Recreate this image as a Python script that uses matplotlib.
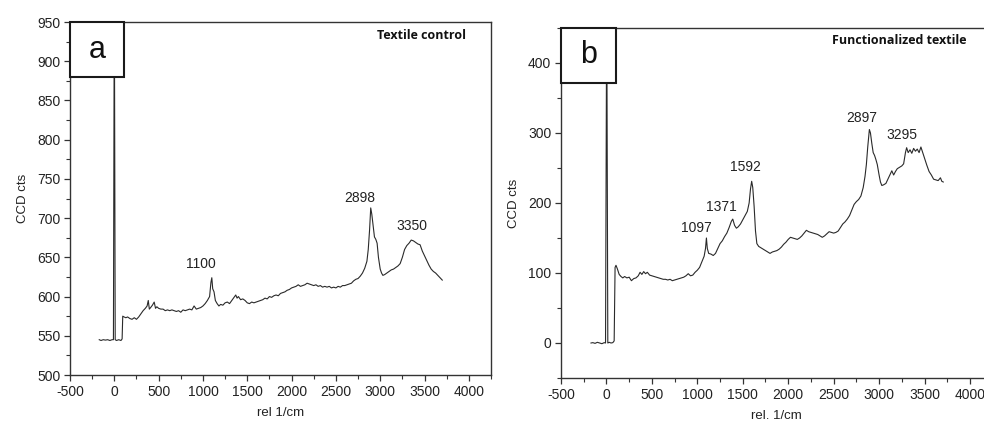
import matplotlib
matplotlib.use("Agg")
import matplotlib.pyplot as plt
from matplotlib.ticker import MultipleLocator
from matplotlib.patches import Rectangle

# ---------------- data ----------------
a_x = [-170, -150, -125, -100, -75, -50, -25, -10, 0, 10, 25, 50, 75, 88, 95, 110, 130, 150, 175, 200,
       225, 250, 275, 300, 325, 350, 370, 383, 395, 410, 430, 450, 465, 480, 500, 525, 550, 575, 600,
       625, 650, 675, 700, 725, 750, 775, 800, 825, 850, 875, 900, 925, 950, 975, 1000, 1025, 1050,
       1075, 1090, 1100, 1110, 1125, 1140, 1160, 1180, 1200, 1225, 1250, 1275, 1300, 1325, 1350, 1370,
       1385, 1400, 1425, 1450, 1475, 1500, 1525, 1550, 1575, 1600, 1625, 1650, 1675, 1700, 1725, 1750,
       1775, 1800, 1825, 1850, 1875, 1900, 1925, 1950, 1975, 2000, 2025, 2050, 2075, 2100, 2125, 2150,
       2175, 2200, 2225, 2250, 2275, 2300, 2325, 2350, 2375, 2400, 2425, 2450, 2475, 2500, 2525, 2550,
       2575, 2600, 2625, 2650, 2675, 2700, 2725, 2750, 2775, 2800, 2825, 2850, 2865, 2880, 2893, 2905,
       2920, 2935, 2950, 2965, 2980, 3000, 3015, 3030, 3050, 3075, 3100, 3125, 3150, 3175, 3200, 3225,
       3250, 3275, 3300, 3325, 3350, 3375, 3400, 3425, 3450, 3475, 3500, 3525, 3550, 3575, 3600, 3625,
       3650, 3675, 3700]
a_y = [545, 544, 545, 544.5, 545, 544, 545, 545, 1000, 545, 544, 545, 544, 546, 575, 574, 573, 574, 572, 571,
       573, 571, 574, 578, 582, 585, 588, 595, 584, 586, 589, 593, 585, 587, 585, 584, 584, 582, 583,
       582, 583, 582, 581, 582, 580, 583, 582, 583, 584, 583, 588, 584, 585, 586, 588, 591, 595,
       600, 618, 624, 610, 606, 595, 591, 588, 590, 589, 592, 593, 591, 595, 599, 602,
       598, 600, 596, 597, 595, 592, 591, 593, 592, 593, 594, 595, 596, 598, 597, 600,
       599, 601, 602, 601, 604, 605, 606, 608, 609, 611, 612, 613, 615, 613, 614, 615,
       617, 616, 615, 614, 615, 613, 614, 612, 613, 612, 613, 611, 612, 611, 613, 612,
       614, 614, 615, 616, 617, 620, 622, 623, 626, 630, 636, 645, 660, 685, 713, 705,
       690, 676, 673, 668, 650, 635, 630, 627, 628, 630, 632, 634, 635, 637, 639, 642,
       650, 660, 665, 668, 672, 671, 669, 667, 666, 658, 652, 646, 640, 635, 632, 630,
       627, 624, 621]

b_x = [-170, -150, -125, -100, -75, -50, -25, -10, 3, 15, 30, 50, 70, 85, 95, 105, 120, 140, 160, 180,
       200, 225, 250, 275, 300, 325, 350, 370, 390, 410, 430, 450, 475, 500, 525, 550, 575, 600, 625,
       650, 675, 700, 725, 750, 775, 800, 825, 850, 875, 900, 925, 950, 975, 1000, 1025, 1050, 1075,
       1090, 1100, 1110, 1125, 1150, 1175, 1200, 1225, 1250, 1275, 1300, 1325, 1350, 1375, 1390, 1410,
       1430, 1450, 1475, 1500, 1525, 1550, 1570, 1585, 1598, 1610, 1625, 1640, 1655, 1675, 1700, 1725,
       1750, 1775, 1800, 1825, 1850, 1875, 1900, 1925, 1950, 1975, 2000, 2025, 2050, 2075, 2100, 2125,
       2150, 2175, 2200, 2225, 2250, 2275, 2300, 2325, 2350, 2375, 2400, 2425, 2450, 2475, 2500, 2525,
       2550, 2575, 2600, 2625, 2650, 2675, 2700, 2725, 2750, 2775, 2800, 2825, 2845, 2860, 2875, 2893,
       2905, 2920, 2935, 2950, 2965, 2980, 3000, 3015, 3030, 3050, 3075, 3100, 3125, 3140, 3160, 3180,
       3200, 3225, 3250, 3270, 3290, 3303, 3320, 3340, 3360, 3380, 3400, 3420, 3440, 3460, 3480, 3500,
       3525, 3550, 3575, 3600, 3625, 3650, 3675, 3690, 3706]
b_y = [0, 0.5, -0.5, 1, 0, -1, 0.5, 0, 500, 0, 1, 0, 0.5, 3, 108, 111, 106, 98, 95, 93,
       95, 93, 94, 89, 92, 93, 96, 101, 98, 102, 99, 101, 97, 96, 95, 94, 93, 92, 91,
       91, 90, 91, 89, 90, 91, 92, 93, 94, 96, 99, 96, 97, 101, 104, 108, 116, 124,
       135, 150, 135, 128, 127, 125, 128, 135, 142, 146, 152, 157, 165, 174, 177, 168,
       164, 166, 170, 176, 182, 188, 200, 220, 231, 222, 195, 160, 142, 138, 136, 134,
       132, 130, 128, 130, 131, 132, 134, 137, 141, 144, 148, 151, 150, 149, 148, 150,
       153, 157, 161, 159, 158, 157, 156, 155, 153, 151, 153, 156, 159, 158, 157, 158,
       160, 165, 170, 173, 177, 182, 190, 198, 202, 205, 210, 222, 238, 255, 280, 305,
       300, 285, 272, 268, 262, 255, 240, 230, 225, 226, 228, 235, 242, 246, 240, 245,
       249, 251, 253, 256, 272, 279, 272, 276, 271, 278, 274, 277, 272, 280, 272, 264,
       254, 245, 240, 234, 233, 232, 236, 231, 230]

a_peaks = ["1100", "2898", "3350"]
a_peak_x = [975, 2769, 3359]
a_peak_y = [642, 726, 690]
b_peaks = ["1097", "1371", "1592", "2897", "3295"]
b_peak_x = [993, 1260, 1532, 2808, 3248]
b_peak_y = [165, 194, 251, 322, 297]

x_ticks = [-500, 0, 500, 1000, 1500, 2000, 2500, 3000, 3500, 4000]

# ---------------- figure ----------------
plt.rcParams['font.family'] = ['Liberation Sans', 'DejaVu Sans']
fig = plt.figure(figsize=(9.84, 4.22), dpi=100)

ax_a = fig.add_axes([70/984, 1-375/422, 421/984, 353/422])
ax_b = fig.add_axes([561/984, 1-378/422, 431.7/984, 350/422])

line_col = '#2a2a2a'
spine_col = '#333333'

def style(ax, ylim, ymaj, ymin, xlabel, title, title_x, letter):
    ax.set_xlim(-500, 4250)
    ax.set_ylim(*ylim)
    ax.set_xticks(x_ticks)
    ax.set_xticklabels([str(t) for t in x_ticks])
    ax.xaxis.set_minor_locator(MultipleLocator(250))
    ax.yaxis.set_major_locator(MultipleLocator(ymaj))
    ax.yaxis.set_minor_locator(MultipleLocator(ymin))
    ax.tick_params(which='major', direction='out', length=4, width=0.9, colors=spine_col,
                   labelsize=10, labelcolor='#222222', pad=3)
    ax.tick_params(which='minor', direction='out', length=3, width=0.8, colors=spine_col)
    ax.tick_params(top=False, right=False)
    for s in ax.spines.values():
        s.set_color(spine_col)
        s.set_linewidth(1.0)
    ax.set_xlabel(xlabel, fontsize=9.5, color='#222222', labelpad=6)
    ax.set_ylabel('CCD cts', fontsize=9.5, color='#222222', labelpad=6)
    ax.text(title_x, 0.963, title, transform=ax.transAxes, ha='right', va='center',
            fontsize=9, fontweight='bold', family=['Open Sans', 'DejaVu Sans'], color='#111111')
    ax.add_patch(Rectangle((0, 0.844), 0.128, 0.156, transform=ax.transAxes,
                           facecolor='white', edgecolor='#1a1a1a', linewidth=1.5,
                           zorder=5, clip_on=False))
    ax.text(0.064, 0.922, letter, transform=ax.transAxes, ha='center', va='center',
            fontsize=22, color='#111111', zorder=6)

ax_a.plot(a_x, a_y, color=line_col, linewidth=0.8)
for t, x, y in zip(a_peaks, a_peak_x, a_peak_y):
    ax_a.text(x, y, t, ha='center', va='center', fontsize=10, color='#222222')
style(ax_a, (500, 950), 50, 25, 'rel 1/cm', 'Textile control', 0.94, 'a')

ax_b.plot(b_x, b_y, color=line_col, linewidth=0.8)
for t, x, y in zip(b_peaks, b_peak_x, b_peak_y):
    ax_b.text(x, y, t, ha='center', va='center', fontsize=10, color='#222222')
style(ax_b, (-50, 450), 100, 50, 'rel. 1/cm', 'Functionalized textile', (967 - 561) / 431.7, 'b')

fig.savefig('out.png', dpi=100)
